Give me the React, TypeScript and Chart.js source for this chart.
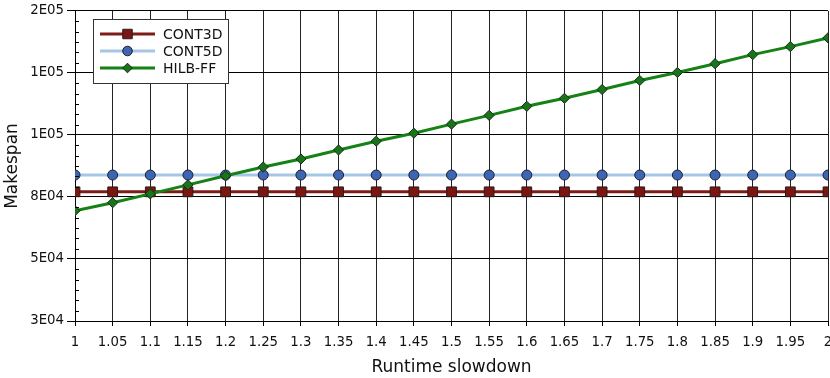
import React, { useEffect, useRef } from 'react';
import { Chart, registerables } from 'chart.js';
Chart.register(...registerables);

const slowdown = [1, 1.05, 1.1, 1.15, 1.2, 1.25, 1.3, 1.35, 1.4, 1.45, 1.5, 1.55, 1.6, 1.65, 1.7, 1.75, 1.8, 1.85, 1.9, 1.95, 2];
const xTickLabels = ['1', '1.05', '1.1', '1.15', '1.2', '1.25', '1.3', '1.35', '1.4', '1.45', '1.5', '1.55', '1.6', '1.65', '1.7', '1.75', '1.8', '1.85', '1.9', '1.95', '2'];
const cont3d = [80000, 80000, 80000, 80000, 80000, 80000, 80000, 80000, 80000, 80000, 80000, 80000, 80000, 80000, 80000, 80000, 80000, 80000, 80000, 80000, 80000];
const cont5d = [86500, 86500, 86500, 86500, 86500, 86500, 86500, 86500, 86500, 86500, 86500, 86500, 86500, 86500, 86500, 86500, 86500, 86500, 86500, 86500, 86500];
const hilbff = [72700, 75800, 79200, 82700, 86200, 89600, 92700, 96200, 99600, 102700, 106200, 109600, 113100, 116200, 119600, 123100, 126200, 129600, 133100, 136200, 139600];
const yTickValues = [30000, 54000, 78000, 102000, 126000, 150000];
const yTickLabels = ['3E04', '5E04', '8E04', '1E05', '1E05', '2E05'];
const seriesNames = ['CONT3D', 'CONT5D', 'HILB-FF'];

const FONT = "'DejaVu Sans', sans-serif";

const minorTicks = {
  id: 'minorTicks',
  afterDraw(chart: any) {
    const y = chart.scales.y;
    const ctx = chart.ctx;
    const left = chart.chartArea.left;
    ctx.save();
    ctx.strokeStyle = '#000';
    ctx.lineWidth = 1;
    for (let i = 0; i < yTickValues.length - 1; i++) {
      const a = yTickValues[i];
      const b = yTickValues[i + 1];
      for (let k = 1; k < 6; k++) {
        const py = Math.round(y.getPixelForValue(a + (k * (b - a)) / 6)) + 0.5;
        ctx.beginPath();
        ctx.moveTo(left, py);
        ctx.lineTo(left + 4, py);
        ctx.stroke();
      }
    }
    ctx.restore();
  },
};

function drawMarker(ctx: CanvasRenderingContext2D, style: string, x: number, y: number, fill: string) {
  ctx.beginPath();
  if (style === 'rect') {
    ctx.rect(x - 4.75, y - 4.75, 9.5, 9.5);
  } else if (style === 'circle') {
    ctx.arc(x, y, 4.8, 0, Math.PI * 2);
  } else {
    ctx.moveTo(x, y - 4.8);
    ctx.lineTo(x + 4.8, y);
    ctx.lineTo(x, y + 4.8);
    ctx.lineTo(x - 4.8, y);
    ctx.closePath();
  }
  ctx.fillStyle = fill;
  ctx.fill();
  ctx.strokeStyle = '#222';
  ctx.lineWidth = 1;
  ctx.stroke();
}

const boxLegend = {
  id: 'boxLegend',
  afterDraw(chart: any) {
    const ctx = chart.ctx;
    ctx.save();
    ctx.fillStyle = '#fff';
    ctx.fillRect(93.5, 19.5, 135, 64);
    ctx.strokeStyle = '#333';
    ctx.lineWidth = 1;
    ctx.strokeRect(93.5, 19.5, 135, 64);
    const rows = [34, 51, 68];
    chart.data.datasets.forEach((ds: any, i: number) => {
      const yy = rows[i];
      ctx.beginPath();
      ctx.moveTo(100, yy);
      ctx.lineTo(155, yy);
      ctx.strokeStyle = ds.borderColor;
      ctx.lineWidth = ds.borderWidth;
      ctx.stroke();
      drawMarker(ctx, ds.pointStyle, 127.5, yy, ds.pointBackgroundColor);
      ctx.fillStyle = '#111';
      ctx.font = `14px ${FONT}`;
      ctx.textBaseline = 'middle';
      ctx.textAlign = 'left';
      ctx.fillText(ds.label, 163, yy + 1);
    });
    ctx.restore();
  },
};

export default function App() {
  const ref = useRef<HTMLCanvasElement | null>(null);
  useEffect(() => {
    document.body.style.margin = '0';
    const toPts = (arr: number[]) => slowdown.map((x, i) => ({ x, y: arr[i] }));
    const chart = new Chart(ref.current as HTMLCanvasElement, {
      type: 'line',
      data: {
        datasets: [
          {
            label: seriesNames[0],
            data: toPts(cont3d),
            borderColor: '#7e1c18',
            backgroundColor: '#7b1612',
            pointBackgroundColor: '#7b1612',
            pointBorderColor: '#2a1a1a',
            pointBorderWidth: 1,
            pointStyle: 'rect',
            pointRadius: 6.9,
            borderWidth: 3,
            order: 2,
          },
          {
            label: seriesNames[1],
            data: toPts(cont5d),
            borderColor: '#a6c6e6',
            backgroundColor: '#3e64b4',
            pointBackgroundColor: '#3e64b4',
            pointBorderColor: '#1a2233',
            pointBorderWidth: 1,
            pointStyle: 'circle',
            pointRadius: 5,
            borderWidth: 3,
            order: 1,
          },
          {
            label: seriesNames[2],
            data: toPts(hilbff),
            borderColor: '#148214',
            backgroundColor: '#197519',
            pointBackgroundColor: '#197519',
            pointBorderColor: '#1a2a1a',
            pointBorderWidth: 1,
            pointStyle: 'rectRot',
            pointRadius: 5.1,
            borderWidth: 3,
            order: 0,
          },
        ],
      },
      options: {
        animation: false,
        responsive: false,
        maintainAspectRatio: false,
        layout: { padding: { top: 9, right: 32, bottom: 0, left: 0 } },
        plugins: { legend: { display: false }, tooltip: { enabled: false } },
        scales: {
          x: {
            type: 'linear',
            min: 1,
            max: 2,
            afterBuildTicks: (s: any) => {
              s.ticks = slowdown.map((v) => ({ value: v }));
            },
            afterFit: (s: any) => {
              s.height = 57;
            },
            ticks: {
              autoSkip: false,
              maxRotation: 0,
              minRotation: 0,
              padding: 9,
              color: '#111',
              font: { family: FONT, size: 13.3 },
              callback: (_v: any, i: number) => xTickLabels[i],
            },
            grid: { color: '#222', lineWidth: 1, tickLength: 5, tickColor: '#000' },
            border: { color: '#000', width: 1 },
            title: {
              display: true,
              text: 'Runtime slowdown',
              color: '#111',
              font: { family: FONT, size: 17 },
              padding: { top: 0, bottom: 0 },
            },
          },
          y: {
            type: 'linear',
            min: 30000,
            max: 150000,
            afterBuildTicks: (s: any) => {
              s.ticks = yTickValues.map((v) => ({ value: v }));
            },
            afterFit: (s: any) => {
              s.width = 75;
            },
            ticks: {
              padding: 3,
              color: '#111',
              font: { family: FONT, size: 13.3 },
              callback: (_v: any, i: number) => yTickLabels[i],
            },
            grid: { color: '#000', lineWidth: 1, tickLength: 8, tickColor: '#000' },
            border: { color: '#000', width: 1 },
            title: {
              display: true,
              text: 'Makespan',
              color: '#111',
              font: { family: FONT, size: 17 },
              padding: { top: 2, bottom: 0 },
            },
          },
        },
      },
      plugins: [minorTicks, boxLegend],
    } as any);
    return () => chart.destroy();
  }, []);
  return (
    <div style={{ width: 830, height: 378, overflow: 'hidden', position: 'relative', background: '#fff' }}>
      <canvas ref={ref} width={860} height={378} style={{ position: 'absolute', left: 0, top: 0, width: 860, height: 378 }} />
    </div>
  );
}
